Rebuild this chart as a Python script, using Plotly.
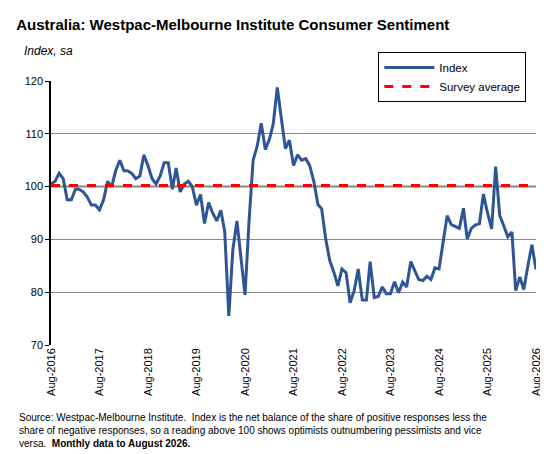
import pandas as pd
import plotly.graph_objects as go

dates = pd.date_range("2016-08-01", "2026-08-01", freq="MS")

# Westpac-Melbourne Institute index, Aug-2016 .. Aug-2026
index_vals = [
    100.5, 101, 102.5, 101.5, 97.5, 97.5, 99.5, 99.5, 99, 98, 96.5, 96.5,
    95.6, 97.5, 101, 100, 103, 105, 103, 103, 102.5, 101.5, 102, 106,
    104, 101.5, 100.5, 102, 104.5, 104.5, 99.5, 103.5, 99, 100.5, 101, 100,
    96.5, 98.5, 93, 97, 95, 93.5, 95.5, 91.5, 75.5, 88, 93.5, 87,
    79.5, 93.8, 105, 107.7, 112, 107, 109, 111.8, 118.8, 113, 107.2, 108.8,
    104, 106, 105, 105.3, 104, 101, 96.6, 95.8, 90, 86, 83.8, 81.2,
    84.4, 83.7, 78.0, 80.3, 84.4, 78.5, 78.5, 85.8, 79, 79.2, 81, 79.7,
    79.7, 82, 79.9, 81.9, 81, 85.8, 84, 82.4, 82.2, 83.0, 82.4, 84.6,
    84.4, 89.8, 94.5, 92.8, 92.4, 92.1, 95.9, 90.1, 92.1, 92.7, 93, 98.6,
    95, 92, 103.8, 94.5, 92.6, 90.5, 91.4, 80.3, 82.9, 80.5, 85, 89,
    84.3,
]
survey_avg = 100.2
tick_dates = dates[::12]
tick_labels = [d.strftime("Aug-%Y") for d in tick_dates]

fig = go.Figure()
fig.add_trace(go.Scatter(x=dates, y=index_vals, mode="lines", name="Index",
                         line=dict(color="#2f5597", width=3)))
fig.add_trace(go.Scatter(x=[dates[0], dates[-1]], y=[survey_avg, survey_avg], mode="lines",
                         name="Survey average", line=dict(color="#ff0000", width=3, dash="dash")))

# x axis crosses at 100
fig.add_shape(type="line", xref="x", yref="y", x0=dates[0], x1=dates[-1], y0=100, y1=100,
              line=dict(color="black", width=1.5), layer="below")

fig.update_layout(
    width=548, height=454,
    margin=dict(l=43, r=20, t=73, b=117, autoexpand=False),
    plot_bgcolor="white", paper_bgcolor="white",
    font=dict(family="Liberation Sans, Arial", size=11, color="black"),
    title=dict(text="<b>Australia: Westpac-Melbourne Institute Consumer Sentiment</b>",
               x=0.015, xanchor="left", y=0.975, yanchor="top", font=dict(size=15)),
    showlegend=True,
    legend=dict(x=0.98, xanchor="right", y=1.11, yanchor="top", bordercolor="black",
                borderwidth=1, bgcolor="white", font=dict(size=11.5),
                tracegroupgap=10, itemwidth=50),
    xaxis=dict(range=[dates[0], dates[-1]], tickvals=tick_dates, ticktext=tick_labels,
               tickangle=-90, showgrid=False, showline=False, ticks="", automargin=False,
               tickfont=dict(size=11)),
    yaxis=dict(range=[70, 120], dtick=10, showgrid=True, gridcolor="#8c8c8c", gridwidth=1,
               showline=True, linecolor="black", linewidth=1.5, ticks="outside", automargin=False,
               ticklen=4, tickcolor="black", zeroline=False, tickfont=dict(size=11)),
    annotations=[
        dict(text="<i>Index, sa</i>", xref="paper", yref="paper", x=-0.06, y=1.08,
             xanchor="left", yanchor="bottom", showarrow=False, font=dict(size=12)),
        dict(text="Source: Westpac-Melbourne Institute.  Index is the net balance of the share of positive responses less the<br>"
                  "share of negative responses, so a reading above 100 shows optimists outnumbering pessimists and vice<br>"
                  "versa.  <b>Monthly data to August 2026.</b>",
             xref="paper", yref="paper", x=-0.07, y=-0.245, xanchor="left", yanchor="top",
             align="left", showarrow=False, font=dict(size=10, family="Liberation Sans Narrow, Liberation Sans")),
    ],
)
fig.write_html("out.html")
